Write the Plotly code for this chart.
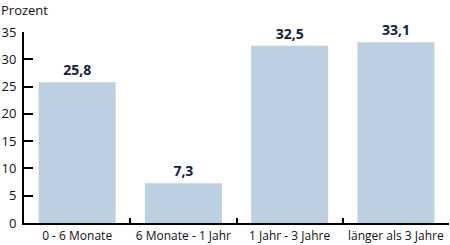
import plotly.graph_objects as go

categories = ["0 - 6 Monate", "6 Monate - 1 Jahr", "1 Jahr - 3 Jahre", "länger als 3 Jahre"]
values = [25.8, 7.3, 32.5, 33.1]
y_ticks = [0, 5, 10, 15, 20, 25, 30, 35]

labels = [f"{v:.1f}".replace(".", ",") for v in values]

fig = go.Figure(go.Bar(
    x=categories, y=values,
    marker=dict(color="#bdd0e1", line=dict(width=0)),
    text=labels, textposition="outside", cliponaxis=False,
    textfont=dict(family="Open Sans", size=14, color="#14213d", weight="bold"),
))

fig.update_layout(
    width=450, height=245,
    margin=dict(l=24, r=1, t=32, b=18),
    paper_bgcolor="white", plot_bgcolor="white",
    bargap=0.275,
    showlegend=False,
    font=dict(family="Open Sans", size=12, color="#111111"),
    annotations=[dict(text="Prozent", xref="paper", yref="paper", x=0, xshift=-25, y=1,
                      yshift=33, xanchor="left", yanchor="top", showarrow=False,
                      font=dict(size=13, color="#111111"))],
)
fig.update_yaxes(range=[0, 35], tickvals=y_ticks, showgrid=False, zeroline=False,
                 showline=True, linecolor="black", linewidth=2,
                 tickfont=dict(size=13),
                 ticks="inside", ticklen=9, tickwidth=2, tickcolor="black", ticklabelstandoff=3)
fig.update_xaxes(showgrid=False, showline=True, linecolor="black", linewidth=2,
                 ticks="inside", ticklen=5, tickwidth=2, tickcolor="black",
                 tickson="boundaries", ticklabelstandoff=1)

fig.write_html("out.html")
